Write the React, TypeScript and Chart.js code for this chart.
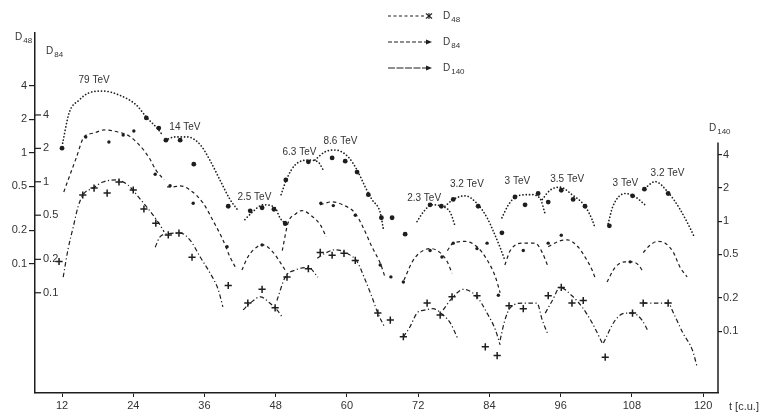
import { useEffect, useRef } from 'react';
import { Chart, registerables } from 'chart.js';

Chart.register(...registerables);

// ---- axes ----
const xTicks = [12, 24, 36, 48, 60, 72, 84, 96, 108, 120];
const yTicks = [0.1, 0.2, 0.5, 1, 2, 4];
const seriesNames = ['48', '84', '140'];

// ---- D48 (top curves, left outer axis) ----
const d48LineT = [
  12.1, 13.2, 14.9, 16.5, 18.9, 21.6, 24.5, 26.2, 28.3, 29.0, null,
  29.4, 31.0, 33.1, 35.3, 36.9, 38.6, 40.3, 41.5, null,
  42.8, 44.0, 45.9, 47.9, 48.7, 49.6, null,
  48.9, 49.9, 51.3, 53.5, 55.1, 56.0, null,
  54.6, 56.3, 58.0, 60.2, 61.7, 63.1, 64.2, 65.6, 66.1, null,
  71.8, 72.8, 74.3, 76.0, 77.4, 78.2, null,
  76.5, 77.9, 79.9, 81.9, 83.6, 84.6, 85.8, 86.6, null,
  86.1, 87.2, 88.7, 90.9, 92.5, 93.4, null,
  92.9, 94.2, 95.9, 97.9, 100.1, 101.3, 101.8, null,
  104.0, 104.8, 106.9, 108.6, 110.2, null,
  110.2, 111.9, 114.1, 116.1, 117.8, 118.4,
];
const d48LineV = [
  1.22, 2.29, 2.99, 3.46, 3.6, 3.32, 2.7, 2.1, 1.6, 1.42, null,
  1.3, 1.39, 1.39, 1.18, 0.86, 0.57, 0.38, 0.31, null,
  0.25, 0.29, 0.34, 0.32, 0.26, 0.23, null,
  0.42, 0.59, 0.78, 0.86, 0.83, 0.7, null,
  0.86, 1.02, 1.06, 0.92, 0.7, 0.49, 0.38, 0.29, 0.21, null,
  0.24, 0.29, 0.34, 0.33, 0.29, 0.22, null,
  0.33, 0.38, 0.41, 0.35, 0.26, 0.2, 0.14, 0.108, null,
  0.26, 0.34, 0.41, 0.42, 0.39, 0.28, null,
  0.38, 0.46, 0.49, 0.42, 0.33, 0.25, 0.21, null,
  0.23, 0.33, 0.43, 0.4, 0.34, null,
  0.48, 0.55, 0.44, 0.31, 0.21, 0.18,
];
const d48MarkT = [12.0, 26.2, 28.3, 29.5, 31.9, 34.2, 40.0, 43.7, 45.7, 47.7, 49.6, 49.7, 53.5, 57.5, 59.7, 61.7, 63.6, 65.8, 67.6, 69.8, 74.0, 75.9, 77.9, 82.1, 86.1, 88.3, 90.0, 92.2, 93.9, 96.1, 98.1, 100.1, 104.2, 108.1, 110.1, 114.1];
const d48MarkV = [1.1, 2.06, 1.67, 1.3, 1.3, 0.79, 0.33, 0.3, 0.32, 0.31, 0.23, 0.57, 0.83, 0.9, 0.84, 0.67, 0.42, 0.26, 0.26, 0.185, 0.34, 0.33, 0.38, 0.33, 0.19, 0.4, 0.34, 0.43, 0.36, 0.46, 0.38, 0.33, 0.22, 0.41, 0.47, 0.43];

// ---- D84 (middle curves, inner left axis) ----
const d84LineT = [
  12.3, 13.2, 14.4, 15.7, 17.4, 19.1, 21.4, 23.3, 25.0, 26.7, 27.8, 29.2, null,
  29.7, 30.7, 31.9, 33.6, 35.8, 37.4, 39.1, 40.3, 41.2, null,
  42.3, 43.3, 44.9, 45.9, 47.6, 48.7, 49.6, null,
  49.1, 50.1, 51.3, 52.4, 54.1, 55.5, 56.5, null,
  55.5, 57.5, 59.3, 61.4, 62.7, 64.2, 65.6, 66.4, null,
  69.6, 71.0, 72.3, 74.0, 75.7, 76.9, 77.7, null,
  76.9, 77.9, 79.9, 81.9, 83.6, 85.0, 85.8, null,
  86.6, 87.5, 89.7, 91.7, 92.9, 93.9, null,
  93.9, 95.6, 97.1, 98.9, 100.1, 101.3, 101.8, null,
  103.8, 105.2, 106.9, 108.1, 109.1, 109.7, null,
  109.9, 111.1, 112.3, 113.6, 115.0, 116.1, 117.3,
];
const d84LineV = [
  0.81, 1.1, 1.64, 2.53, 2.75, 2.93, 2.81, 2.59, 2.15, 1.64, 1.28, 1.04, null,
  0.9, 0.9, 0.92, 0.84, 0.64, 0.45, 0.3, 0.21, 0.17, null,
  0.16, 0.21, 0.26, 0.27, 0.23, 0.19, 0.16, null,
  0.24, 0.43, 0.51, 0.55, 0.49, 0.41, 0.32, null,
  0.62, 0.66, 0.62, 0.52, 0.39, 0.26, 0.185, 0.139, null,
  0.13, 0.19, 0.23, 0.25, 0.23, 0.19, 0.15, null,
  0.24, 0.28, 0.29, 0.26, 0.198, 0.139, 0.1, null,
  0.178, 0.24, 0.28, 0.28, 0.23, 0.17, null,
  0.26, 0.29, 0.3, 0.26, 0.21, 0.16, 0.136, null,
  0.125, 0.17, 0.19, 0.19, 0.178, 0.16, null,
  0.23, 0.27, 0.29, 0.28, 0.23, 0.17, 0.139,
];
const d84MarkT = [16.0, 19.9, 22.3, 24.1, 27.7, 30.2, 34.1, 39.8, 45.7, 49.6, 55.6, 57.7, 61.4, 65.6, 67.4, 69.5, 74.0, 76.0, 77.9, 81.9, 83.6, 85.5, 89.7, 93.9, 96.1, 107.7];
const d84MarkV = [2.53, 2.28, 2.64, 2.87, 1.17, 0.92, 0.64, 0.26, 0.27, 0.43, 0.64, 0.61, 0.5, 0.178, 0.139, 0.125, 0.24, 0.21, 0.28, 0.25, 0.28, 0.095, 0.24, 0.28, 0.33, 0.19];

// ---- D140 (bottom curves, right axis) ----
const d140LineT = [
  12.2, 13.0, 13.9, 14.7, 15.5, 17.2, 18.9, 21.1, 23.1, 25.0, 26.7, 28.2, 29.2, null,
  27.7, 28.5, 29.9, 31.9, 33.6, 35.3, 36.9, 38.3, 39.1, null,
  42.5, 43.7, 45.4, 47.0, 48.2, 49.2, null,
  48.2, 49.6, 51.3, 53.5, 55.1, null,
  55.0, 56.3, 58.0, 60.0, 61.7, 63.1, 64.2, 65.2, 66.4, null,
  69.5, 70.6, 71.8, 73.2, 74.5, 76.2, 77.4, 78.6, null,
  76.2, 77.7, 79.6, 81.9, 83.6, 85.0, 85.8, null,
  85.8, 86.6, 87.5, 89.7, 92.0, 92.9, 93.9, null,
  93.4, 94.6, 95.9, 97.9, 99.6, 101.3, 103.0, null,
  103.2, 105.2, 106.9, 108.1, 109.7, 110.6, null,
  109.9, 112.3, 114.1, 115.0, 116.6, 118.2, 119.0,
];
const d140LineV = [
  0.31, 0.55, 0.89, 1.35, 1.73, 2.0, 2.27, 2.37, 2.13, 1.63, 1.26, 0.98, 0.8, null,
  0.58, 0.72, 0.77, 0.78, 0.67, 0.47, 0.34, 0.24, 0.166, null,
  0.156, 0.18, 0.205, 0.18, 0.156, 0.132, null,
  0.19, 0.31, 0.36, 0.38, 0.31, null,
  0.46, 0.51, 0.55, 0.51, 0.43, 0.29, 0.205, 0.146, 0.107, null,
  0.089, 0.109, 0.146, 0.156, 0.16, 0.14, 0.119, 0.087, null,
  0.156, 0.2, 0.24, 0.205, 0.146, 0.103, 0.075, null,
  0.083, 0.126, 0.163, 0.18, 0.18, 0.126, 0.092, null,
  0.146, 0.19, 0.25, 0.21, 0.166, 0.119, 0.078, null,
  0.078, 0.126, 0.146, 0.146, 0.126, 0.103, null,
  0.18, 0.18, 0.18, 0.146, 0.096, 0.067, 0.047,
];
const d140MarkT = [11.5, 15.5, 17.4, 19.6, 21.6, 24.0, 25.8, 27.8, 29.9, 31.7, 33.9, 40.0, 43.3, 45.7, 47.9, 49.9, 53.5, 55.5, 57.5, 59.5, 61.4, 65.2, 67.3, 69.5, 73.5, 75.7, 77.7, 81.9, 83.3, 85.3, 87.3, 89.7, 93.9, 96.1, 97.9, 99.8, 103.5, 108.1, 109.9, 114.1];
const d140MarkV = [0.43, 1.73, 2.0, 1.8, 2.27, 1.92, 1.29, 0.96, 0.75, 0.78, 0.47, 0.26, 0.18, 0.24, 0.163, 0.31, 0.37, 0.52, 0.49, 0.51, 0.44, 0.146, 0.126, 0.089, 0.18, 0.14, 0.205, 0.21, 0.072, 0.06, 0.17, 0.16, 0.21, 0.25, 0.18, 0.19, 0.058, 0.146, 0.18, 0.18];

// ---- energy annotations (anchored on the D48 scale) ----
const tevLabels = ['79 TeV', '14 TeV', '2.5 TeV', '6.3 TeV', '8.6 TeV', '2.3 TeV', '3.2 TeV', '3 TeV', '3.5 TeV', '3 TeV', '3.2 TeV'];
const tevT = [17.4, 32.7, 44.4, 52.0, 58.9, 73.0, 80.2, 88.7, 97.1, 106.9, 114.0];
const tevV = [4.53, 1.71, 0.4, 1.02, 1.28, 0.39, 0.52, 0.55, 0.58, 0.53, 0.66];

function toPts(ts: (number | null)[], vs: (number | null)[]) {
  const out: { x: number; y: number | null }[] = [];
  let last = 0;
  for (let i = 0; i < ts.length; i++) {
    const t = ts[i];
    const v = vs[i];
    if (t === null || v === null) {
      out.push({ x: last, y: null });
    } else {
      last = t;
      out.push({ x: t, y: v });
    }
  }
  return out;
}

export default function App() {
  const ref = useRef<HTMLCanvasElement>(null);

  useEffect(() => {
    if (!ref.current) return;
    const font = '"Liberation Sans", Arial, Helvetica, sans-serif';
    const ink = '#1e1e1e';
    const txt = '#333';
    Chart.defaults.font.family = font;
    Chart.defaults.font.size = 11;
    Chart.defaults.color = txt;

    const setTicks = (vals: number[]) => (s: any) => {
      s.ticks = vals.map((v) => ({ value: v }));
    };

    const overlay = {
      id: 'overlay',
      afterDraw(chart: any) {
        const ctx = chart.ctx as CanvasRenderingContext2D;
        const a = chart.chartArea;
        const sx = chart.scales.x;
        const s48 = chart.scales.y48;
        const s84 = chart.scales.y84;
        const s140 = chart.scales.y140;
        const line = (x1: number, y1: number, x2: number, y2: number) => {
          ctx.beginPath();
          ctx.moveTo(x1, y1);
          ctx.lineTo(x2, y2);
          ctx.stroke();
        };
        const sub = (main: string, s: string, x: number, y: number) => {
          ctx.textAlign = 'left';
          ctx.textBaseline = 'alphabetic';
          ctx.font = `10px ${font}`;
          ctx.fillText(main, x, y);
          const w = ctx.measureText(main).width;
          ctx.font = `8px ${font}`;
          ctx.fillText(s, x + w + 1, y + 3);
        };
        ctx.save();
        ctx.strokeStyle = ink;
        ctx.fillStyle = txt;

        // inner D84 axis ticks
        ctx.lineWidth = 1.2;
        ctx.font = `11px ${font}`;
        ctx.textAlign = 'left';
        ctx.textBaseline = 'middle';
        yTicks.forEach((v) => {
          const y = s84.getPixelForValue(v);
          line(a.left, y, a.left + 6, y);
          ctx.fillText(String(v), a.left + 8, y);
        });

        // right (D140) axis line
        ctx.lineWidth = 1.5;
        line(a.right, s140.getPixelForValue(5.2), a.right, a.bottom);

        // axis titles
        sub('D', seriesNames[0], 15, 40);
        sub('D', seriesNames[1], 46, 54);
        sub('D', seriesNames[2], 709, 131);
        ctx.font = `11px ${font}`;
        ctx.textAlign = 'left';
        ctx.textBaseline = 'middle';
        ctx.fillText('t [c.u.]', 729, 407);

        // energy labels
        ctx.font = `10px ${font}`;
        ctx.textAlign = 'center';
        ctx.textBaseline = 'middle';
        tevLabels.forEach((label, i) => {
          ctx.fillText(label, sx.getPixelForValue(tevT[i]), s48.getPixelForValue(tevV[i]));
        });

        // legend
        const ly = [16, 42, 68];
        const dashes = [[3, 2.5], [4, 2], [7, 1.5]];
        ly.forEach((y, i) => {
          ctx.strokeStyle = ink;
          ctx.lineWidth = 1.2;
          ctx.setLineDash(dashes[i]);
          line(388, y, 426, y);
          ctx.setLineDash([]);
          if (i === 0) {
            // small star
            ctx.lineWidth = 1.1;
            line(426, y - 2.5, 432, y + 2.5);
            line(426, y + 2.5, 432, y - 2.5);
            line(429, y - 3, 429, y + 3);
          } else {
            ctx.beginPath();
            ctx.moveTo(432, y);
            ctx.lineTo(426, y - 2.5);
            ctx.lineTo(426, y + 2.5);
            ctx.closePath();
            ctx.fillStyle = ink;
            ctx.fill();
          }
          ctx.fillStyle = txt;
          sub('D', seriesNames[i], 443, y + 3);
        });
        ctx.restore();
      },
    };

    const lineDs = (ts: any, vs: any, axis: string, dash: number[], width: number, cap: any) => ({
      type: 'line' as const,
      data: toPts(ts, vs),
      yAxisID: axis,
      xAxisID: 'x',
      borderColor: ink,
      borderWidth: width,
      borderDash: dash,
      borderCapStyle: cap,
      pointRadius: 0,
      fill: false,
      spanGaps: false,
      cubicInterpolationMode: 'monotone' as const,
    });

    const chart = new Chart(ref.current, {
      type: 'line',
      data: {
        datasets: [
          lineDs(d48LineT, d48LineV, 'y48', [0.1, 3.2], 1.7, 'round'),
          lineDs(d84LineT, d84LineV, 'y84', [3.5, 3], 1.2, 'butt'),
          lineDs(d140LineT, d140LineV, 'y140', [4.5, 2.5, 1.2, 2.5], 1.2, 'butt'),
          {
            type: 'scatter',
            data: toPts(d48MarkT, d48MarkV),
            yAxisID: 'y48',
            xAxisID: 'x',
            pointStyle: 'circle',
            pointRadius: 2.4,
            pointBackgroundColor: ink,
            pointBorderWidth: 0,
            showLine: false,
          } as any,
          {
            type: 'scatter',
            data: toPts(d84MarkT, d84MarkV),
            yAxisID: 'y84',
            xAxisID: 'x',
            pointStyle: 'circle',
            pointRadius: 1.7,
            pointBackgroundColor: ink,
            pointBorderWidth: 0,
            showLine: false,
          } as any,
          {
            type: 'scatter',
            data: toPts(d140MarkT, d140MarkV),
            yAxisID: 'y140',
            xAxisID: 'x',
            pointStyle: 'cross',
            pointRadius: 3.6,
            pointBorderColor: ink,
            pointBorderWidth: 1.5,
            showLine: false,
          } as any,
        ],
      },
      options: {
        responsive: false,
        animation: false,
        devicePixelRatio: 1,
        events: [],
        layout: { padding: { top: 33, left: 0, right: 0, bottom: 0 } },
        plugins: { legend: { display: false }, tooltip: { enabled: false }, title: { display: false } },
        scales: {
          x: {
            type: 'linear',
            min: 7.45,
            max: 122.5,
            afterBuildTicks: setTicks(xTicks),
            afterFit: (s: any) => {
              s.height = 23;
            },
            grid: { drawOnChartArea: false, drawTicks: true, tickLength: 4, color: ink },
            border: { display: true, color: ink, width: 1.5 },
            ticks: { autoSkip: false, maxRotation: 0, padding: 2, color: txt, font: { size: 11 }, callback: (v: any) => String(v) },
          },
          y48: {
            type: 'logarithmic',
            position: 'left',
            min: 0.00686,
            max: 12.0,
            afterBuildTicks: setTicks(yTicks),
            afterFit: (s: any) => {
              s.width = 35;
            },
            grid: { drawOnChartArea: false, drawTicks: true, tickLength: 6, color: ink, lineWidth: 1.2 },
            border: { display: true, color: ink, width: 1.5 },
            ticks: { autoSkip: false, padding: 2, color: txt, font: { size: 11 }, callback: (v: any) => String(v) },
          },
          y84: {
            type: 'logarithmic',
            display: false,
            min: 0.0125,
            max: 21.9,
          },
          y140: {
            type: 'logarithmic',
            position: 'right',
            min: 0.0274,
            max: 51.4,
            afterBuildTicks: setTicks(yTicks),
            afterFit: (s: any) => {
              s.width = 47;
            },
            grid: { drawOnChartArea: false, drawTicks: true, tickLength: 4, color: ink, lineWidth: 1.2 },
            border: { display: false },
            ticks: { autoSkip: false, padding: 1, color: txt, font: { size: 11 }, callback: (v: any) => String(v) },
          },
        } as any,
      },
      plugins: [overlay],
    });

    return () => chart.destroy();
  }, []);

  return (
    <div style={{ position: 'absolute', left: 0, top: 0, width: 765, height: 416, background: '#fff' }}>
      <canvas ref={ref} width={765} height={416} style={{ display: 'block', width: 765, height: 416 }} />
    </div>
  );
}
